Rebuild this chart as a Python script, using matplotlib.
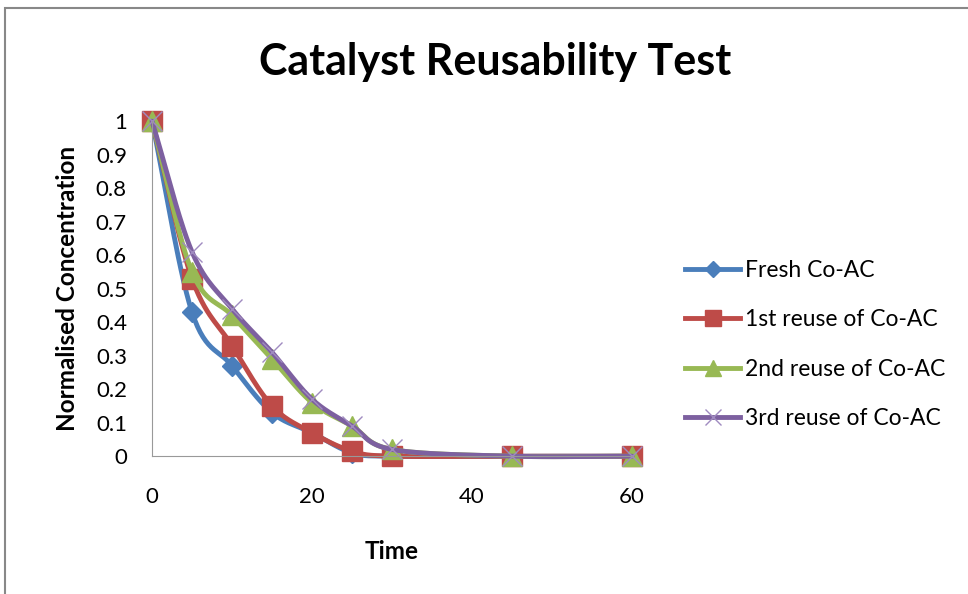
import numpy as np
import matplotlib.pyplot as plt
from matplotlib.patches import Rectangle

time = [0, 5, 10, 15, 20, 25, 30, 45, 60]
fresh = [1.0, 0.43, 0.27, 0.13, 0.07, 0.01, 0.0, 0.0, 0.0]
reuse1 = [1.0, 0.53, 0.33, 0.15, 0.07, 0.015, 0.0, 0.0, 0.0]
reuse2 = [1.0, 0.55, 0.42, 0.29, 0.16, 0.09, 0.02, 0.0, 0.0]
reuse3 = [1.0, 0.61, 0.44, 0.31, 0.17, 0.09, 0.02, 0.0, 0.0]
labels = ["Fresh Co-AC", "1st reuse of Co-AC", "2nd reuse of Co-AC", "3rd reuse of Co-AC"]


def smooth(x, y, n=30):
    # catmull-rom style curve through the points, like Excel's smoothed line
    x = np.asarray(x, float)
    y = np.asarray(y, float)
    px = np.concatenate([[2 * x[0] - x[1]], x, [2 * x[-1] - x[-2]]])
    py = np.concatenate([[2 * y[0] - y[1]], y, [2 * y[-1] - y[-2]]])
    xs, ys = [], []
    t = np.linspace(0, 1, n)
    for i in range(1, len(px) - 2):
        p0, p1, p2, p3 = [np.array([px[j], py[j]]) for j in range(i - 1, i + 3)]
        c1 = p1 + (p2 - p0) / 6
        c2 = p2 - (p3 - p1) / 6
        pts = ((1 - t) ** 3)[:, None] * p1 + (3 * (1 - t) ** 2 * t)[:, None] * c1 \
            + (3 * (1 - t) * t ** 2)[:, None] * c2 + (t ** 3)[:, None] * p2
        xs.extend(pts[:, 0])
        ys.extend(pts[:, 1])
    return xs, ys


plt.rcParams['font.family'] = ['Lato', 'DejaVu Sans']

fig = plt.figure(figsize=(9.68, 5.94), dpi=100)
ax = fig.add_axes([0.157, 0.232, 0.496, 0.564])

series = [fresh, reuse1, reuse2, reuse3]
colors = ['#4A7EBB', '#BE4B48', '#98B954', '#7D60A0']
markers = ['D', 's', '^', 'x']
msizes = [10, 14, 14, 14]

for vals, col, mk, ms, lab in zip(series, colors, markers, msizes, labels):
    sx, sy = smooth(time, vals)
    ax.plot(sx, sy, color=col, lw=3.5, solid_capstyle='round', clip_on=False)
    if mk == 'x':
        ax.plot(time, vals, ls='none', marker=mk, ms=ms, mew=1, color='#A08BC0', clip_on=False)
    else:
        ax.plot(time, vals, ls='none', marker=mk, ms=ms, color=col, mec=col, clip_on=False)
    ax.plot([], [], color=col, lw=3.5, marker=mk, ms=ms * 0.85,
            mew=1, mec='#A08BC0' if mk == 'x' else col, label=lab)

ax.set_xlim(0, 60)
ax.set_ylim(0, 1)
ax.set_xticks([0, 20, 40, 60])
ax.set_yticks(np.arange(0, 1.01, 0.1))
ax.set_yticklabels(["0", "0.1", "0.2", "0.3", "0.4", "0.5", "0.6", "0.7", "0.8", "0.9", "1"])
ax.tick_params(length=0, labelsize=16)
ax.tick_params(axis='y', pad=18)
ax.tick_params(axis='x', pad=22)
for s in ['top', 'right']:
    ax.spines[s].set_visible(False)
for s in ['left', 'bottom']:
    ax.spines[s].set_color('#999999')
ax.set_xlabel("Time", fontsize=17.5, fontweight='bold', labelpad=24)
ax.set_ylabel("Normalised Concentration", fontsize=17.5, fontweight='bold', labelpad=12)

fig.text(0.512, 0.895, "Catalyst Reusability Test", fontsize=31, fontweight='bold',
         ha='center', va='center')

fig.legend(loc='center left', bbox_to_anchor=(685 / 968, 0.42), frameon=False, fontsize=16.5,
           handlelength=2.4, labelspacing=1.25, handletextpad=0.2, borderpad=0,
           borderaxespad=0)

fig.patches.append(Rectangle((5 / 968, -0.1), 1.2, 1.1 - 8 / 594, transform=fig.transFigure,
                             fill=False, edgecolor='#888888', lw=1.5, clip_on=False))

plt.savefig('out.png', dpi=100)
